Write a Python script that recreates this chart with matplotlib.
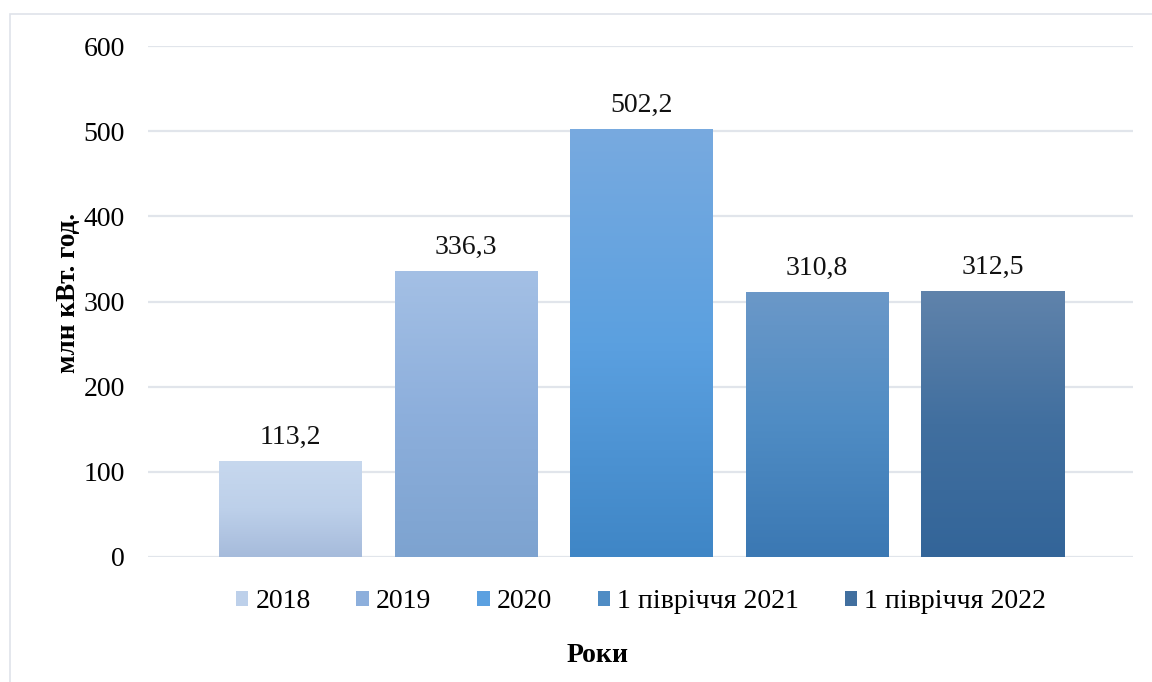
import numpy as np
import matplotlib
matplotlib.use("Agg")
import matplotlib.pyplot as plt
from matplotlib.colors import LinearSegmentedColormap
from matplotlib.patches import Rectangle

plt.rcParams['font.family'] = ['Liberation Serif', 'DejaVu Serif']

categories = ["2018", "2019", "2020", "1 півріччя 2021", "1 півріччя 2022"]
values = [113.2, 336.3, 502.2, 310.8, 312.5]
value_labels = ["113,2", "336,3", "502,2", "310,8", "312,5"]
y_ticks = [0, 100, 200, 300, 400, 500, 600]

# top / middle / bottom gradient stops for every bar
gradients = [
    ("#c7d8ee", "#bdd0ea", "#a6bbdb"),
    ("#a4c0e5", "#8dafdc", "#7da3d0"),
    ("#78aadf", "#5ba0e0", "#3f86c6"),
    ("#6b98c8", "#4f8cc4", "#3b78b3"),
    ("#6083ab", "#416f9f", "#336599"),
]
legend_colors = ["#bdd0ea", "#8dafdc", "#5ba0e0", "#4f8cc4", "#416f9f"]

FS = 20
W, H, DPI = 1152, 682, 100
fig = plt.figure(figsize=(W / DPI, H / DPI), dpi=DPI)

# outer chart frame
fig.patches.append(Rectangle((10 / W, -0.05), 1.2, (H - 14) / H + 0.05,
                             transform=fig.transFigure, fill=False,
                             edgecolor="#dfe3ea", linewidth=1.2))

x0, x1 = 148, 1133
y_top, y_zero = 46, 557
ax = fig.add_axes([x0 / W, 1 - y_zero / H, (x1 - x0) / W, (y_zero - y_top) / H])

spacing = 175.5
bar_w = 143 / spacing
xpos = np.arange(len(values))

ax.set_yticks(y_ticks)
ax.set_yticklabels([str(t) for t in y_ticks], fontsize=FS)
ax.tick_params(axis="y", length=0, pad=16.5)
ax.set_xticks([])
for s in ax.spines.values():
    s.set_visible(False)
ax.grid(axis="y", color="#e1e5eb", linewidth=1.6)
ax.set_axisbelow(True)

grad = np.linspace(0, 1, 256).reshape(-1, 1)
for i, (v, stops) in enumerate(zip(values, gradients)):
    cmap = LinearSegmentedColormap.from_list(f"g{i}", [stops[2], stops[1], stops[0]])
    bar = ax.bar(xpos[i], v, width=bar_w, color="none", edgecolor="none", zorder=2)[0]
    left = xpos[i] - bar_w / 2
    im = ax.imshow(grad, cmap=cmap, origin="lower", aspect="auto",
                   extent=[left, left + bar_w, 0, v], zorder=2)
    im.set_clip_path(bar)
    ax.text(xpos[i], v + 20, value_labels[i], ha="center", va="baseline",
            fontsize=FS, color="#111111")

ax.set_xlim((x0 - 290.5) / spacing, (x1 - 290.5) / spacing)
ax.set_ylim(0, 600)

handles = [Rectangle((0, 0), 1, 1, facecolor=c, edgecolor="none") for c in legend_colors]
fig.legend(handles, categories, loc="center", bbox_to_anchor=(641 / W, 1 - 602 / H),
           ncol=5, frameon=False, fontsize=FS, handlelength=0.45, handleheight=0.45,
           handletextpad=0.25, columnspacing=1.65, borderpad=0)

fig.text(598 / W, 1 - 655 / H, "Роки", ha="center", va="center",
         fontsize=FS, fontweight="bold")
fig.text(68 / W, 1 - 293 / H, "млн кВт. год.", ha="center", va="center",
         rotation=90, fontsize=19.5, fontweight="bold")

fig.savefig("out.png", dpi=DPI)
